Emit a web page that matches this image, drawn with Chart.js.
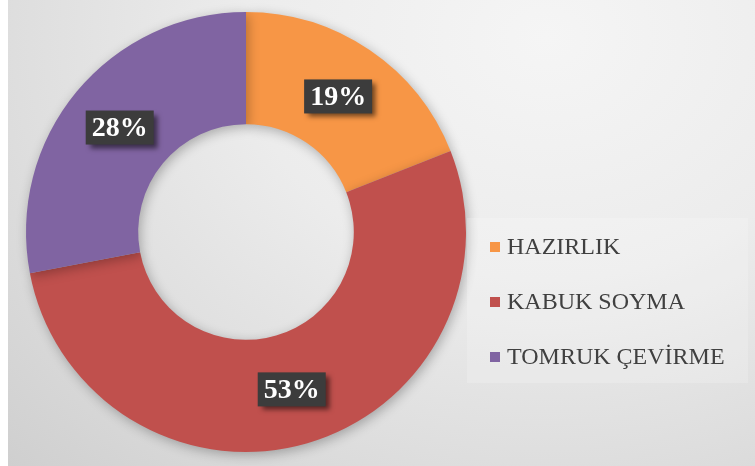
<!DOCTYPE html>
<html>
<head>
<meta charset="utf-8">
<script src="https://cdn.jsdelivr.net/npm/chart.js@4"></script>
<style>
    html, body { margin: 0; padding: 0; background: #ffffff; }
    #wrap {
        position: absolute; left: 8px; top: 0; width: 747px; height: 466px;
        background: radial-gradient(ellipse farthest-corner at 72% 8%, #f5f5f5 0%, #ececec 40%, #dedede 70%, #cfcfcf 100%);
    }
</style>
</head>
<body>
<div id="wrap"><canvas id="grafico" width="747" height="466"></canvas></div>
<script>
// Etiquetas y valores (%)
const etiquetas = ['HAZIRLIK', 'KABUK SOYMA', 'TOMRUK ÇEVİRME']
const valores = [19, 53, 28]
const colores = ['#F79646', '#C0504D', '#8064A2']

// sombra del anillo
const sombraAnillo = {
    id: 'sombraAnillo',
    beforeDatasetsDraw(chart) {
        const ctx = chart.ctx
        ctx.save()
        ctx.shadowColor = 'rgba(0,0,0,0.28)'
        ctx.shadowBlur = 12
        ctx.shadowOffsetX = 2
        ctx.shadowOffsetY = 3
    },
    afterDatasetsDraw(chart) {
        chart.ctx.restore()
    }
}

// etiquetas de porcentaje en cajas oscuras
const cajasPorcentaje = {
    id: 'cajasPorcentaje',
    afterDraw(chart) {
        const ctx = chart.ctx
        const meta = chart.getDatasetMeta(0)
        ctx.save()
        ctx.font = 'bold 28px "Liberation Serif", "Times New Roman", serif'
        ctx.textAlign = 'center'
        ctx.textBaseline = 'middle'
        meta.data.forEach((arc, i) => {
            const p = arc.tooltipPosition()
            const txt = valores[i] + '%'
            const w = ctx.measureText(txt).width + 12
            const h = 34
            ctx.save()
            ctx.shadowColor = 'rgba(0,0,0,0.55)'
            ctx.shadowBlur = 5
            ctx.shadowOffsetX = 4
            ctx.shadowOffsetY = 4
            ctx.fillStyle = '#3c3c3c'
            ctx.fillRect(p.x - w / 2, p.y - h / 2, w, h)
            ctx.restore()
            ctx.fillStyle = '#ffffff'
            ctx.fillText(txt, p.x, p.y + 1)
        })
        ctx.restore()
    }
}

// leyenda a la derecha
const leyenda = {
    id: 'leyenda',
    afterDraw(chart) {
        const ctx = chart.ctx
        const area = chart.chartArea
        const x0 = area.right + 1
        const y0 = 218
        ctx.save()
        ctx.fillStyle = 'rgba(255,255,255,0.18)'
        ctx.fillRect(x0, y0, 281, 165)
        ctx.font = '24px "Liberation Serif", "Times New Roman", serif'
        ctx.textBaseline = 'middle'
        chart.data.labels.forEach((lab, i) => {
            const y = y0 + 29 + i * 55
            ctx.fillStyle = colores[i]
            ctx.fillRect(x0 + 23, y - 5, 10, 10)
            ctx.fillStyle = '#404040'
            ctx.fillText(lab, x0 + 40, y + 1)
        })
        ctx.restore()
    }
}

new Chart(document.getElementById('grafico'), {
    type: 'doughnut',
    data: {
        labels: etiquetas,
        datasets: [{
            data: valores,
            backgroundColor: colores,
            borderWidth: 0
        }]
    },
    options: {
        responsive: false,
        animation: false,
        cutout: '49%',
        layout: {
            padding: { left: 18, right: 289, top: 12, bottom: 14 }
        },
        plugins: {
            legend: { display: false },
            tooltip: { enabled: false }
        }
    },
    plugins: [sombraAnillo, cajasPorcentaje, leyenda]
})
</script>
</body>
</html>
